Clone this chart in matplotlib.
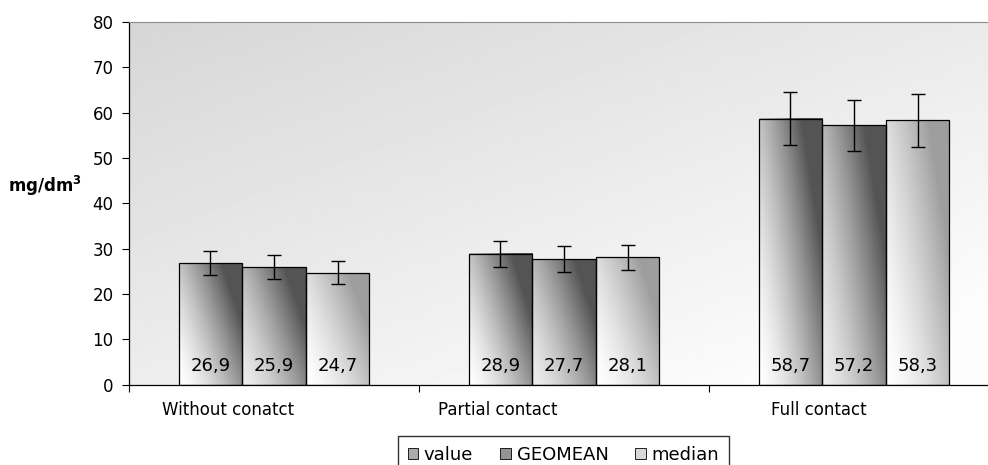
import numpy as np
import matplotlib
matplotlib.use('Agg')
import matplotlib.pyplot as plt
from matplotlib.patches import Patch

categories = ['Without conatct', 'Partial contact', 'Full contact']
series = ['value', 'GEOMEAN', 'median']
values = {
    'value':   [26.9, 28.9, 58.7],
    'GEOMEAN': [25.9, 27.7, 57.2],
    'median':  [24.7, 28.1, 58.3],
}
errors = {
    'value':   [2.7, 2.9, 5.9],
    'GEOMEAN': [2.6, 2.8, 5.7],
    'median':  [2.5, 2.8, 5.8],
}
labels = {
    'value':   ['26,9', '28,9', '58,7'],
    'GEOMEAN': ['25,9', '27,7', '57,2'],
    'median':  ['24,7', '28,1', '58,3'],
}

# (light, dark) grey levels of the bar gradients
shades = {'value': (1.0, 0.33), 'GEOMEAN': (0.93, 0.33), 'median': (1.0, 0.62)}
legend_cols = {'value': '#ababab', 'GEOMEAN': '#949494', 'median': '#d8d8d8'}

plt.rcParams['font.family'] = ['DejaVu Sans']

fig = plt.figure(figsize=(9.88, 4.65), dpi=100)
ax = fig.add_axes([129 / 988, 80.3 / 465, 870 / 988, 362.7 / 465])

# plot area background: dark top-left to white bottom-right
gu = np.linspace(0, 1, 200)[None, :]
gv = np.linspace(0, 1, 200)[:, None]
bg = np.clip(0.84 + 0.08 * gu + 0.09 * gv, 0, 0.99)
ax.imshow(bg, cmap='gray', vmin=0, vmax=1, extent=(0, 1, 0, 1),
          transform=ax.transAxes, aspect='auto', zorder=0)

x = np.arange(len(categories))
w = 0.219
nx, ny = 60, 200
u = np.linspace(0, 1, nx)[None, :]
vb = np.linspace(1, 0, ny)[:, None]  # 1 at top row
t = np.clip(0.75 * u + 0.5 * vb, 0, 1) ** 1.5

for k, s in enumerate(series):
    pos = x + (k - 1) * w
    bars = ax.bar(pos, values[s], w, facecolor='none', edgecolor='black',
                  linewidth=0.9, zorder=3)
    light, dark = shades[s]
    img = light - (light - dark) * t
    for b in bars:
        ax.imshow(img, cmap='gray', vmin=0, vmax=1, aspect='auto',
                  extent=(b.get_x(), b.get_x() + b.get_width(), 0, b.get_height()),
                  zorder=2)
    ax.errorbar(pos, values[s], yerr=errors[s], fmt='none', ecolor='black',
                elinewidth=1, capsize=4.7, capthick=1, zorder=4)
    for p, lab in zip(pos, labels[s]):
        ax.text(p, 3.0, lab, ha='center', va='baseline', fontsize=13, zorder=5)

ax.set_xlim(-0.5, 2.5)
ax.set_ylim(0, 80)
ax.set_yticks(np.arange(0, 81, 10))
ax.tick_params(axis='y', labelsize=12, length=5, width=0.8, pad=6)
ax.set_xticks([-0.5, 0.5, 1.5, 2.5])
ax.set_xticklabels([])
ax.tick_params(axis='x', length=5, width=0.8)

ax.spines['right'].set_visible(False)
ax.spines['top'].set_color('#8c8c8c')
ax.spines['left'].set_linewidth(0.9)
ax.spines['bottom'].set_linewidth(0.9)

label_x = [-0.16, 0.77, 1.88]
for lx, c in zip(label_x, categories):
    ax.text(lx, -0.07, c, transform=ax.get_xaxis_transform(), ha='center',
            va='center', fontsize=12)

fig.text(8 / 988, 1 - 186 / 465, r'mg/dm$^{\mathbf{3}}$', fontsize=12,
         fontweight='bold', ha='left', va='center')

handles = [Patch(facecolor=legend_cols[s], edgecolor='black', linewidth=0.6)
           for s in series]
fig.legend(handles, series, loc='upper center', ncol=3,
           bbox_to_anchor=(0.5703, 0.0624), bbox_transform=fig.transFigure,
           fontsize=13, frameon=True, fancybox=False, edgecolor='black',
           handlelength=0.6, handleheight=0.6, handletextpad=0.3,
           columnspacing=1.5, borderaxespad=0, borderpad=0.55)

fig.savefig('out.png', dpi=100)
